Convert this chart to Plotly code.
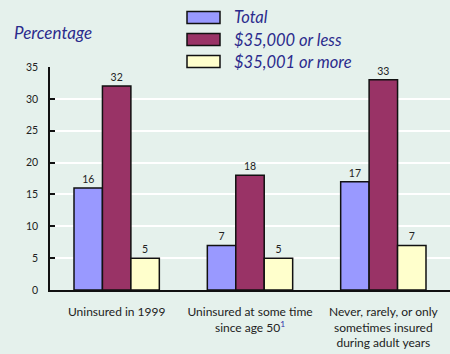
import plotly.graph_objects as go

categories = [
    "Uninsured in 1999",
    "Uninsured at some time<br>since age 50<sup><span style='color:#3333aa'>1</span></sup>",
    "Never, rarely, or only<br>sometimes insured<br>during adult years",
]
series_names = ["Total", "$35,000 or less", "$35,001 or more"]
total = [16, 7, 17]
low_income = [32, 18, 33]
high_income = [5, 5, 7]
colors = ["#9999ff", "#993366", "#ffffcc"]
y_ticks = [0, 5, 10, 15, 20, 25, 30, 35]

BG = "#e5f1ec"
LEG_BLUE = "#2b2b8c"
PLOT_L, PLOT_W, PLOT_T, PLOT_H = 50, 400, 67, 223


def px_x(px):
    return (px - PLOT_L) / PLOT_W


def px_y(py):
    return 1 + (PLOT_T - py) / PLOT_H


fig = go.Figure()
for name, vals, col in zip(series_names, [total, low_income, high_income], colors):
    fig.add_trace(go.Bar(
        x=categories, y=vals, name=name, showlegend=False,
        marker=dict(color=col, line=dict(color="#111111", width=1.5)),
        text=[str(v) for v in vals], textposition="outside",
        textfont=dict(family="Lato", size=10.5, color="#222222"),
        cliponaxis=False,
    ))

# manual legend (wide swatches as in the reference)
shapes = []
annotations = []
row_centers = [17.5, 39.5, 61.5]
for name, col, cy in zip(series_names, colors, row_centers):
    shapes.append(dict(
        type="rect", xref="paper", yref="paper",
        x0=px_x(187), x1=px_x(220), y0=px_y(cy + 6), y1=px_y(cy - 6),
        fillcolor=col, line=dict(color="#111111", width=1.5), layer="above",
    ))
    annotations.append(dict(
        text=name, xref="paper", yref="paper", x=px_x(232), y=px_y(cy),
        xanchor="left", yanchor="middle", showarrow=False,
        font=dict(family="Lato", size=16.5, color=LEG_BLUE, style="italic"),
    ))

annotations.append(dict(
    text="Percentage", xref="paper", yref="paper", x=px_x(12), y=px_y(32),
    xanchor="left", yanchor="middle", showarrow=False,
    font=dict(family="Lato", size=17, color=LEG_BLUE, style="italic"),
))

fig.update_layout(
    width=450, height=354,
    margin=dict(l=PLOT_L, r=0, t=PLOT_T, b=354 - PLOT_T - PLOT_H),
    paper_bgcolor=BG, plot_bgcolor=BG,
    barmode="group", bargap=0.36, bargroupgap=0,
    font=dict(family="Lato", color="#222222"),
    showlegend=False,
    xaxis=dict(
        showline=True, linecolor="#111111", linewidth=1.5,
        ticks="", tickfont=dict(family="Lato", size=12, color="#222222"),
        showgrid=False, ticklabelstandoff=10,
    ),
    yaxis=dict(
        range=[0, 35], tickvals=y_ticks, ticktext=[str(t) for t in y_ticks],
        showline=True, linecolor="#111111", linewidth=1.5,
        ticks="inside", ticklen=5, tickwidth=1.5, tickcolor="#111111",
        showgrid=True, gridcolor="#ffffff", gridwidth=2,
        tickfont=dict(family="Lato", size=10.5, color="#222222"),
        zeroline=False, ticklabelstandoff=8,
    ),
    shapes=shapes,
    annotations=annotations,
)
fig.write_html("out.html")
